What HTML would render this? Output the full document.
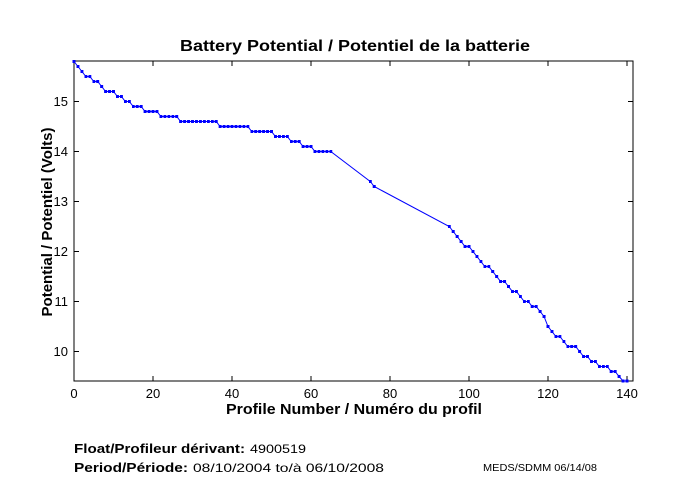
<!DOCTYPE html>
<html><head><meta charset="utf-8"><style>
html,body{margin:0;padding:0;background:#fff;}
svg{display:block;font-family:"Liberation Sans",sans-serif;}
</style></head><body>
<svg width="680" height="500" viewBox="0 0 680 500" xmlns="http://www.w3.org/2000/svg">
<defs>
<marker id="m" markerUnits="userSpaceOnUse" markerWidth="4" markerHeight="4" refX="1.5" refY="1.5"><rect x="0" y="0" width="3" height="3" fill="#0000ff"/></marker>
</defs>
<rect x="74" y="61" width="559" height="320" fill="none" stroke="#000" stroke-width="1"/>
<g stroke="#000" stroke-width="1">
<path d="M74 381v-5M153 381v-5M232 381v-5M311 381v-5M390 381v-5M469 381v-5M548 381v-5M627 381v-5
M74 61v5M153 61v5M232 61v5M311 61v5M390 61v5M469 61v5M548 61v5M627 61v5
M74 351.5h5M74 301.5h5M74 251.5h5M74 201.5h5M74 151.5h5M74 101.5h5
M633 351.5h-5M633 301.5h-5M633 251.5h-5M633 201.5h-5M633 151.5h-5M633 101.5h-5"/>
</g>
<g font-size="13" fill="#000" text-anchor="middle">
<text x="74" y="398">0</text><text x="153" y="398">20</text><text x="232" y="398">40</text><text x="311" y="398">60</text><text x="390" y="398">80</text><text x="469" y="398">100</text><text x="548" y="398">120</text><text x="627" y="398">140</text>
</g>
<g font-size="13" fill="#000" text-anchor="end">
<text x="68" y="356">10</text><text x="68" y="306">11</text><text x="68" y="256">12</text><text x="68" y="206">13</text><text x="68" y="156">14</text><text x="68" y="106">15</text>
</g>
<text x="180" y="51" font-size="16" font-weight="bold" textLength="350" lengthAdjust="spacingAndGlyphs">Battery Potential / Potentiel de la batterie</text>
<text x="226" y="414" font-size="15" font-weight="bold" textLength="256" lengthAdjust="spacingAndGlyphs">Profile Number / Numéro du profil</text>
<text transform="translate(52,222) rotate(-90)" font-size="15" font-weight="bold" text-anchor="middle">Potential / Potentiel (Volts)</text>
<polyline fill="none" stroke="#0000ff" stroke-width="1" marker-start="url(#m)" marker-mid="url(#m)" marker-end="url(#m)" points="
74,61.5 77.95,66.5 81.9,71.5 85.85,76.5 89.8,76.5 93.75,81.5 97.7,81.5 101.65,86.5 105.6,91.5 109.55,91.5 113.5,91.5 117.45,96.5 121.4,96.5 125.35,101.5 129.3,101.5 133.25,106.5 137.2,106.5 141.15,106.5 145.1,111.5 149.05,111.5 153,111.5 156.95,111.5 160.9,116.5 164.85,116.5 168.8,116.5 172.75,116.5 176.7,116.5 180.65,121.5 184.6,121.5 188.55,121.5 192.5,121.5 196.45,121.5 200.4,121.5 204.35,121.5 208.3,121.5 212.25,121.5 216.2,121.5 220.15,126.5 224.1,126.5 228.05,126.5 232,126.5 235.95,126.5 239.9,126.5 243.85,126.5 247.8,126.5 251.75,131.5 255.7,131.5 259.65,131.5 263.6,131.5 267.55,131.5 271.5,131.5 275.45,136.5 279.4,136.5 283.35,136.5 287.3,136.5 291.25,141.5 295.2,141.5 299.15,141.5 303.1,146.5 307.05,146.5 311,146.5 314.95,151.5 318.9,151.5 322.85,151.5 326.8,151.5 330.75,151.5 370.25,181.5 374.2,186.5 449.25,226.5 453.2,231.5 457.15,236.5 461.1,241.5 465.05,246.5 469,246.5 472.95,251.5 476.9,256.5 480.85,261.5 484.8,266.5 488.75,266.5 492.7,271.5 496.65,276.5 500.6,281.5 504.55,281.5 508.5,286.5 512.45,291.5 516.4,291.5 520.35,296.5 524.3,301.5 528.25,301.5 532.2,306.5 536.15,306.5 540.1,311.5 544.05,316.5 548,326.5 551.95,331.5 555.9,336.5 559.85,336.5 563.8,341.5 567.75,346.5 571.7,346.5 575.65,346.5 579.6,351.5 583.55,356.5 587.5,356.5 591.45,361.5 595.4,361.5 599.35,366.5 603.3,366.5 607.25,366.5 611.2,371.5 615.15,371.5 619.1,376.5 623.05,381 627,381"/>
<text x="74" y="453" font-size="13" font-weight="bold" textLength="171" lengthAdjust="spacingAndGlyphs">Float/Profileur dérivant:</text>
<text x="250" y="453" font-size="12" textLength="56" lengthAdjust="spacingAndGlyphs">4900519</text>
<text x="74" y="472" font-size="13" font-weight="bold" textLength="114" lengthAdjust="spacingAndGlyphs">Period/Période:</text>
<text x="193" y="472" font-size="12" textLength="191" lengthAdjust="spacingAndGlyphs">08/10/2004  to/à  06/10/2008</text>
<text x="483" y="471" font-size="10" textLength="114" lengthAdjust="spacingAndGlyphs">MEDS/SDMM  06/14/08</text>
</svg>
</body></html>
